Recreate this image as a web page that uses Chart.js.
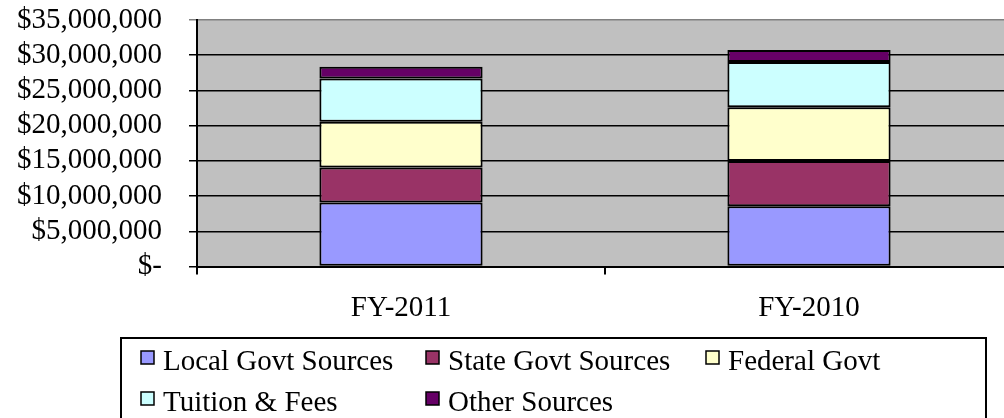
<!DOCTYPE html>
<html>
<head>
<meta charset="utf-8">
<script src="https://cdn.jsdelivr.net/npm/chart.js@4/dist/chart.umd.min.js"></script>
<style>
  html, body { margin: 0; padding: 0; background: #fff; overflow: hidden; width: 1004px; height: 418px; }
  #wrap { width: 1013px; height: 418px; }
  canvas { display: block; }
</style>
</head>
<body>
<div id="wrap"><canvas id="c" width="1013" height="418"></canvas></div>
<script>
// ---- Data ----
const categories = ['FY-2011', 'FY-2010'];
const localGovt   = [9070000, 8540000];
const stateGovt   = [5000000, 6430000];
const federalGovt = [6480000, 7630000];
const tuitionFees = [6150000, 6430000];
const otherSrc    = [1670000, 1720000];
const seriesNames = ['Local Govt Sources', 'State Govt Sources', 'Federal Govt', 'Tuition & Fees', 'Other Sources'];
const yTickValues = [0, 5000000, 10000000, 15000000, 20000000, 25000000, 30000000, 35000000];

const colors = ['#9999FF', '#993366', '#FFFFCC', '#CCFFFF', '#660066'];
const FONT = 'Liberation Serif';
const FS = 29;

const plotBg = {
  id: 'plotBg',
  beforeDraw(chart) {
    const a = chart.chartArea, ctx = chart.ctx;
    ctx.save();
    ctx.fillStyle = '#C0C0C0';
    ctx.fillRect(a.left, a.top, a.right - a.left, a.bottom - a.top);
    ctx.restore();
  }
};

const customLegend = {
  id: 'customLegend',
  afterDraw(chart) {
    const ctx = chart.ctx;
    const items = Chart.defaults.plugins.legend.labels.generateLabels(chart);
    const cols = [141, 426, 706];
    const baselines = [370, 411];
    ctx.save();
    ctx.strokeStyle = '#000';
    ctx.lineWidth = 2;
    ctx.strokeRect(121, 338, 986 - 121, 120);
    ctx.font = FS + 'px "' + FONT + '"';
    ctx.textBaseline = 'alphabetic';
    ctx.textAlign = 'left';
    items.forEach((it, i) => {
      const r = Math.floor(i / 3), c = i % 3;
      const x = cols[c], yb = baselines[r];
      const boxTop = yb - 19;
      ctx.fillStyle = it.fillStyle;
      ctx.fillRect(x, boxTop, 13, 13);
      ctx.lineWidth = 1.5;
      ctx.strokeStyle = '#000';
      ctx.strokeRect(x, boxTop, 13, 13);
      ctx.fillStyle = '#000';
      ctx.fillText(it.text, x + 22, yb);
    });
    ctx.restore();
  }
};

const datasets = [localGovt, stateGovt, federalGovt, tuitionFees, otherSrc].map((d, i) => ({
  label: seriesNames[i],
  data: d,
  backgroundColor: colors[i],
  borderColor: '#000',
  borderWidth: 2,
  borderSkipped: false,
  categoryPercentage: 1.0,
  barPercentage: 0.4
}));

new Chart(document.getElementById('c'), {
  type: 'bar',
  data: { labels: categories, datasets },
  options: {
    responsive: false,
    animation: false,
    devicePixelRatio: 1,
    layout: { padding: { top: 20, right: 0, bottom: 93, left: 0 } },
    plugins: {
      legend: { display: false },
      tooltip: { enabled: false }
    },
    scales: {
      x: {
        stacked: true,
        offset: true,
        afterFit(scale) { scale.height = 58.5; scale.paddingLeft = 0; scale.paddingRight = 0; },
        grid: { display: true, drawOnChartArea: false, drawTicks: true, tickLength: 8, color: '#000', lineWidth: 2, offset: true },
        border: { display: true, color: '#000', width: 2 },
        ticks: { color: '#000', font: { family: FONT, size: FS }, padding: 16, maxRotation: 0, autoSkip: false }
      },
      y: {
        stacked: true,
        min: 0,
        max: 35000000,
        afterBuildTicks(scale) { scale.ticks = yTickValues.map(v => ({ value: v })); },
        afterFit(scale) { scale.width = 197; scale.paddingTop = 0; scale.paddingBottom = 0; },
        grid: {
          color: (ctx) => (ctx.tick && ctx.tick.value === 35000000) ? '#808080' : '#000',
          lineWidth: 1.5,
          drawTicks: true,
          tickLength: 8
        },
        border: { display: true, color: '#000', width: 2 },
        ticks: {
          color: '#000',
          autoSkip: false,
          font: { family: FONT, size: FS },
          padding: 27,
          callback: (v) => v === 0 ? '$-' : '$' + Number(v).toLocaleString('en-US')
        }
      }
    }
  },
  plugins: [plotBg, customLegend]
});
</script>
</body>
</html>
